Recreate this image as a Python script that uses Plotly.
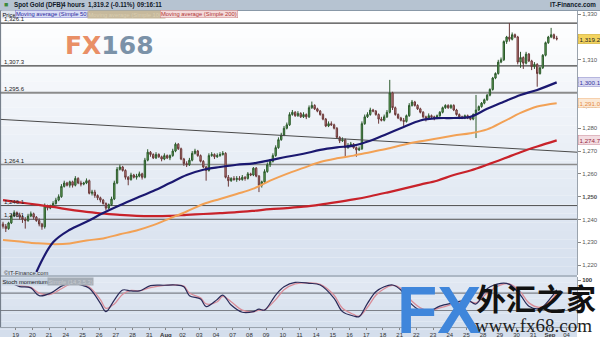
import plotly.graph_objects as go

W, H = 600, 337
def px(x): return x / W
def py(y): return 1 - y / H

FONT = "Liberation Sans, Arial, sans-serif"

# ---------------- DATA ----------------
opens = [
 1238.0,1237.0,1236.0,1238.5,1241.5,1243.0,
 1242.0,1241.0,1240.0,1239.5,1241.5,1242.5,
 1241.0,1239.5,1238.0,1236.8,1246.0,1245.0,
 1245.5,1247.0,1248.5,1250.0,1254.5,1256.0,
 1255.0,1256.5,1255.0,1258.0,1256.0,1255.5,
 1256.0,1257.0,1251.5,1252.0,1250.5,1249.5,
 1248.5,1247.0,1245.0,1246.5,1249.0,1256.0,
 1262.0,1263.0,1261.5,1258.5,1257.5,1259.5,
 1258.5,1259.0,1260.0,1258.5,1266.0,1269.5,
 1268.5,1267.0,1268.5,1267.5,1266.5,1268.0,
 1267.0,1268.0,1270.0,1273.0,1271.0,1266.5,
 1264.5,1264.0,1266.0,1269.0,1270.0,1268.0,
 1265.5,1263.0,1261.5,1268.0,1268.5,1267.5,
 1268.0,1268.5,1269.0,1258.5,1257.0,1258.0,
 1257.5,1258.0,1257.5,1258.5,1258.0,1260.0,
 1259.5,1262.5,1259.0,1255.0,1256.5,1261.0,
 1264.0,1265.5,1268.0,1271.5,1275.0,1277.0,
 1280.0,1281.5,1286.0,1287.0,1285.5,1286.5,
 1285.0,1286.0,1285.0,1289.0,1290.0,1288.5,
 1287.5,1286.0,1284.0,1281.0,1282.0,1281.5,
 1280.0,1276.0,1274.5,1275.0,1271.5,1272.5,
 1273.0,1271.5,1270.5,1271.0,1282.0,1285.0,
 1286.0,1288.0,1287.5,1286.0,1284.0,1283.5,
 1285.0,1287.0,1295.5,1289.0,1286.0,1284.5,
 1283.5,1283.0,1285.5,1290.0,1291.5,1290.0,
 1288.5,1287.0,1285.0,1284.5,1285.5,1285.0,
 1284.5,1285.5,1287.0,1289.0,1290.0,1289.0,
 1290.0,1288.0,1286.0,1285.0,1284.5,1285.5,
 1284.5,1284.0,1286.0,1288.0,1289.5,1291.0,
 1292.5,1294.5,1297.0,1302.0,1304.0,1309.0,
 1310.0,1318.0,1320.0,1319.0,1321.0,1320.0,
 1309.0,1311.0,1308.5,1312.5,1309.5,1307.0,
 1308.0,1304.0,1306.5,1312.0,1317.5,1320.0,
 1321.0,1319.5]
highs = [
 1239.0,1238.0,1239.0,1242.5,1244.0,1243.5,
 1243.0,1242.0,1241.0,1242.5,1243.5,1243.0,
 1241.5,1240.5,1238.5,1247.0,1246.5,1246.5,
 1248.0,1249.5,1251.0,1255.5,1257.0,1256.5,
 1257.0,1257.0,1259.0,1258.5,1257.0,1256.5,
 1258.0,1257.5,1253.0,1253.0,1251.0,1250.0,
 1249.0,1247.5,1247.0,1250.0,1257.0,1263.0,
 1264.0,1263.5,1262.0,1259.0,1260.5,1260.0,
 1260.0,1261.0,1260.5,1267.0,1270.8,1270.0,
 1269.0,1269.5,1269.0,1268.0,1269.0,1268.5,
 1268.5,1271.0,1273.7,1273.5,1271.5,1267.0,
 1265.5,1267.0,1270.0,1271.0,1270.5,1268.5,
 1266.0,1263.5,1269.0,1269.5,1269.0,1269.0,
 1269.5,1270.0,1269.5,1259.5,1258.5,1259.0,
 1259.0,1259.0,1259.5,1259.0,1260.8,1260.5,
 1263.0,1263.0,1259.5,1257.0,1262.0,1265.0,
 1266.5,1269.0,1272.5,1276.0,1278.0,1281.0,
 1282.5,1287.0,1288.0,1287.5,1287.5,1287.0,
 1287.0,1286.5,1290.0,1291.7,1290.5,1289.0,
 1288.0,1286.5,1284.5,1283.0,1283.0,1282.0,
 1280.5,1276.5,1276.0,1275.5,1273.5,1274.0,
 1273.5,1272.0,1272.0,1283.0,1286.0,1287.0,
 1289.0,1288.5,1288.0,1286.5,1285.0,1286.0,
 1288.0,1301.2,1296.0,1289.5,1286.5,1285.0,
 1284.5,1286.0,1291.0,1292.4,1292.0,1290.5,
 1289.0,1287.5,1285.5,1286.5,1286.0,1285.5,
 1286.0,1287.5,1289.5,1290.5,1290.5,1290.5,
 1290.5,1288.5,1286.5,1285.5,1286.0,1286.0,
 1285.0,1286.5,1294.6,1290.0,1291.5,1293.0,
 1295.0,1297.5,1302.5,1304.5,1310.0,1311.0,
 1318.5,1320.5,1326.1,1322.0,1321.5,1320.5,
 1313.5,1311.5,1313.5,1313.0,1310.0,1309.0,
 1308.5,1307.0,1312.5,1318.0,1320.5,1324.0,
 1321.5,1320.5]
lows = [
 1236.0,1234.5,1235.5,1238.0,1241.0,1241.0,
 1240.0,1238.5,1236.0,1239.0,1241.0,1240.0,
 1239.0,1237.0,1235.5,1236.0,1244.0,1244.5,
 1245.0,1246.5,1248.0,1249.5,1254.0,1254.5,
 1254.0,1254.0,1254.5,1255.5,1254.5,1255.0,
 1255.5,1251.0,1250.5,1249.5,1248.5,1247.5,
 1246.5,1244.0,1244.5,1246.0,1248.5,1255.5,
 1261.5,1261.0,1257.5,1255.0,1257.0,1258.0,
 1257.5,1258.5,1257.5,1258.0,1265.5,1267.5,
 1266.5,1266.5,1267.0,1265.5,1266.0,1266.5,
 1266.0,1267.5,1269.5,1270.5,1266.0,1263.5,
 1263.0,1263.5,1265.5,1268.5,1267.5,1265.0,
 1262.5,1257.0,1261.0,1267.5,1266.5,1267.0,
 1267.5,1268.0,1258.0,1254.4,1256.5,1257.0,
 1256.5,1257.0,1257.0,1257.0,1257.5,1259.0,
 1259.0,1258.5,1252.0,1254.0,1256.0,1260.5,
 1263.0,1265.0,1267.5,1271.0,1274.5,1276.5,
 1279.5,1281.0,1285.5,1285.0,1285.0,1284.5,
 1284.5,1284.0,1284.5,1288.5,1288.0,1287.0,
 1285.5,1283.5,1280.5,1280.5,1281.0,1279.5,
 1275.5,1273.5,1274.0,1267.5,1271.0,1272.0,
 1271.0,1267.5,1270.0,1270.5,1281.5,1284.5,
 1285.5,1287.0,1285.5,1282.0,1283.0,1283.0,
 1284.5,1286.5,1288.0,1285.5,1284.0,1283.0,
 1281.0,1282.5,1285.0,1289.5,1289.5,1288.0,
 1286.5,1284.5,1283.0,1284.0,1284.5,1283.5,
 1284.0,1285.0,1286.5,1288.5,1288.5,1288.5,
 1287.5,1285.5,1284.0,1284.0,1284.0,1284.0,
 1283.5,1283.5,1275.7,1287.5,1289.0,1290.5,
 1292.0,1294.0,1296.5,1301.5,1303.5,1308.5,
 1309.5,1317.0,1318.0,1318.5,1319.5,1308.0,
 1306.5,1306.0,1308.0,1309.0,1305.5,1306.0,
 1298.2,1303.5,1306.0,1311.5,1317.0,1319.5,
 1319.0,1318.5]
closes = [
 1237.0,1236.0,1238.5,1241.5,1243.0,1242.0,
 1241.0,1240.0,1239.5,1241.5,1242.5,1241.0,
 1239.5,1238.0,1236.8,1246.0,1245.0,1245.5,
 1247.0,1248.5,1250.0,1254.5,1256.0,1255.0,
 1256.5,1255.0,1258.0,1256.0,1255.5,1256.0,
 1257.0,1251.5,1252.0,1250.5,1249.5,1248.5,
 1247.0,1245.0,1246.5,1249.0,1256.0,1262.0,
 1263.0,1261.5,1258.5,1257.5,1259.5,1258.5,
 1259.0,1260.0,1258.5,1266.0,1269.5,1268.5,
 1267.0,1268.5,1267.5,1266.5,1268.0,1267.0,
 1268.0,1270.0,1273.0,1271.0,1266.5,1264.5,
 1264.0,1266.0,1269.0,1270.0,1268.0,1265.5,
 1263.0,1261.5,1268.0,1268.5,1267.5,1268.0,
 1268.5,1269.0,1258.5,1257.0,1258.0,1257.5,
 1258.0,1257.5,1258.5,1258.0,1260.0,1259.5,
 1262.5,1259.0,1255.0,1256.5,1261.0,1264.0,
 1265.5,1268.0,1271.5,1275.0,1277.0,1280.0,
 1281.5,1286.0,1287.0,1285.5,1286.5,1285.0,
 1286.0,1285.0,1289.0,1290.0,1288.5,1287.5,
 1286.0,1284.0,1281.0,1282.0,1281.5,1280.0,
 1276.0,1274.5,1275.0,1271.5,1272.5,1273.0,
 1271.5,1270.5,1271.0,1282.0,1285.0,1286.0,
 1288.0,1287.5,1286.0,1284.0,1283.5,1285.0,
 1287.0,1295.5,1289.0,1286.0,1284.5,1283.5,
 1283.0,1285.5,1290.0,1291.5,1290.0,1288.5,
 1287.0,1285.0,1284.5,1285.5,1285.0,1284.5,
 1285.5,1287.0,1289.0,1290.0,1289.0,1290.0,
 1288.0,1286.0,1285.0,1284.5,1285.5,1284.5,
 1284.0,1286.0,1288.0,1289.5,1291.0,1292.5,
 1294.5,1297.0,1302.0,1304.0,1309.0,1310.0,
 1318.0,1320.0,1319.0,1321.0,1320.0,1309.0,
 1311.0,1308.5,1312.5,1309.5,1307.0,1308.0,
 1304.0,1306.5,1312.0,1317.5,1320.0,1321.0,
 1319.5,1319.2]

# moving averages sampled once per trading day (bar index) + last bar
ma_bars = [0,6,12,18,24,30,36,42,48,54,60,66,72,78,84,90,96,102,108,114,
           120,126,132,138,144,150,156,162,168,174,180,186,192,199]
sma50 = [None,None,1217,1230,1235.5,1239,1242.8,1246.2,1249.4,1252.5,
         1256,1259.5,1261.8,1263,1264,1264.6,1266,1267.5,1268.8,1270.5,
         1271.6,1272.4,1274.5,1277.5,1280.5,1283.4,1284.4,1284.5,1285,1288.5,
         1291.6,1294.6,1296.8,1300.1]
sma100 = [1231,1230.3,1229.6,1229.2,1229.5,1230.8,1231.7,1233.5,1235.2,1237.5,
          1240.5,1243.5,1246.8,1249,1251.2,1253.5,1257,1260,1262.6,1265.2,
          1266.8,1268,1269.5,1271,1272.8,1274.3,1275.5,1276.8,1277.8,1279.5,
          1283,1286.7,1289.5,1291.0]
sma200 = [1248.5,1247.5,1246.5,1245.5,1244.3,1243.3,1242.6,1242,1241.6,1241.5,
          1241.6,1242,1242.4,1242.8,1243.2,1243.8,1244.5,1245,1245.6,1246.5,
          1247.6,1248.8,1250.2,1251.8,1253.5,1255.3,1257,1259.5,1261.5,1264,
          1266.7,1269.5,1272,1274.7]

stoch_bars = [0,3,6,10,13,17,21,24,28,31,35,37,40,43,46,49,53,58,62,65,
              67,71,73,77,79,82,86,90,92,94,98,101,105,110,114,119,122,126,128,131,
              134,137,140,143,146,150,153,157,162,167,170,174,179,182,186,189,193,197,199]
stoch_main = [85,84,70,64,28,39,72,85,77,62,-7,-45,8,54,50,50,74,76,77,69,
              28,13,-22,11,31,-15,-48,-45,-34,-38,31,69,89,85,77,16,-45,-65,-68,-7,
              46,69,77,54,0,-40,-45,-20,-5,8,-10,60,85,80,30,-20,-30,20,55]
stoch_signal = [84,84,76,66,40,34,60,80,80,68,10,-30,-10,35,52,50,65,75,77,72,
                40,18,-10,0,25,0,-38,-46,-38,-37,10,55,82,87,80,30,-30,-58,-66,-25,
                30,60,75,62,15,-28,-42,-28,-10,3,-5,40,78,82,45,-5,-25,5,45]

levels = [1326.1, 1307.3, 1295.6, 1264.1, 1246.1, 1240.1]
level_text = ["1,326.1", "1,307.3", "1,295.6", "1,264.1", "1,246.1", "1,240.1"]
trend_x = [-1.1, 206.3]
trend_y = [1283.9, 1269.5]

day_labels = ["19","20","21","24","25","26","27","28","31","<b>Aug</b>","02","03","04",
              "07","08","09","10","11","14","15","16","17","18","21","22","23","24",
              "25","28","29","30","31","<b>Sep</b>","04"]
price_ticks = [1220,1230,1240,1250,1260,1270,1280,1290,1300,1310,1320,1330]
price_tick_text = ["1,220","1,230","1,240","<b>1,250</b>","1,260","1,270","1,280",
                   "1,290","1,300","1,310","1,320","1,330"]

# ---------------- FIGURE ----------------
bars = list(range(len(closes)))
XR = [-1.08, 206.3]
main_dom = [py(275), py(11)]
st_dom = [py(327), py(277)]
xdom = [0, px(577)]

fig = go.Figure()

fig.add_trace(go.Scatter(x=trend_x, y=trend_y, mode="lines",
                         line=dict(color="#4a4a4a", width=1), hoverinfo="skip",
                         showlegend=False))
fig.add_trace(go.Scatter(x=ma_bars, y=sma200, mode="lines", line=dict(color="#c8222a", width=2.2, shape="spline"),
                         showlegend=False, hoverinfo="skip"))
fig.add_trace(go.Scatter(x=ma_bars, y=sma100, mode="lines", line=dict(color="#f2a155", width=2, shape="spline"),
                         showlegend=False, hoverinfo="skip"))
fig.add_trace(go.Scatter(x=ma_bars, y=sma50, mode="lines", line=dict(color="#1b1870", width=2.2, shape="spline"),
                         showlegend=False, hoverinfo="skip"))
fig.add_trace(go.Candlestick(x=bars, open=opens, high=highs, low=lows, close=closes,
                             increasing=dict(line=dict(color="#2c5a2c", width=1), fillcolor="#6cae5e"),
                             decreasing=dict(line=dict(color="#6a3838", width=1), fillcolor="#cf8b8b"),
                             whiskerwidth=0, showlegend=False, hoverinfo="skip"))

fig.add_trace(go.Scatter(x=stoch_bars, y=stoch_signal, mode="lines", xaxis="x2", yaxis="y2",
                         line=dict(color="#d98c98", width=1.3, shape="spline"), showlegend=False, hoverinfo="skip"))
fig.add_trace(go.Scatter(x=stoch_bars, y=stoch_main, mode="lines", xaxis="x2", yaxis="y2",
                         line=dict(color="#2a2a58", width=1.2, shape="spline"), showlegend=False, hoverinfo="skip"))

shapes = []
# background gradients
def lerp(c1, c2, t):
    return "rgb(%d,%d,%d)" % tuple(round(a + (b - a) * t) for a, b in zip(c1, c2))
N = 30
top, bot = 11, 275
for i in range(N):
    y0 = top + (bot - top) * i / N
    y1 = top + (bot - top) * (i + 1) / N
    shapes.append(dict(type="rect", xref="paper", yref="paper", x0=0, x1=px(577),
                       y0=py(y1), y1=py(y0), fillcolor=lerp((255, 255, 255), (214, 224, 238), i / (N - 1)),
                       line=dict(width=0), layer="below"))
for i in range(8):
    y0 = 275 + (337 - 275) * i / 8
    y1 = 275 + (337 - 275) * (i + 1) / 8
    shapes.append(dict(type="rect", xref="paper", yref="paper", x0=0, x1=px(577),
                       y0=py(y1), y1=py(y0), fillcolor=lerp((226, 233, 243), (212, 222, 236), i / 7),
                       line=dict(width=0), layer="below"))
# header bar
shapes.append(dict(type="rect", xref="paper", yref="paper", x0=0, x1=1, y0=py(10.5), y1=1,
                   fillcolor="#b6c3d1", line=dict(width=0)))
shapes.append(dict(type="line", xref="paper", yref="paper", x0=0, x1=1, y0=py(10.5), y1=py(10.5),
                   line=dict(color="#8a99a8", width=1)))
# panel separators / borders
shapes.append(dict(type="line", xref="paper", yref="paper", x0=0, x1=px(577), y0=py(276), y1=py(276),
                   line=dict(color="#9aa6b4", width=1.5)))
shapes.append(dict(type="line", xref="paper", yref="paper", x0=0.001, x1=0.001, y0=py(327), y1=py(11),
                   line=dict(color="#6a7480", width=1)))
# horizontal support/resistance levels
lv_style = {1326.1: ("#454545", 1.3), 1307.3: ("#454545", 1.3), 1295.6: ("#8c8c8c", 2),
            1264.1: ("#8c8c8c", 1.6), 1246.1: ("#505050", 1), 1240.1: ("#505050", 1)}
for lv in levels:
    c, w = lv_style[lv]
    shapes.append(dict(type="line", xref="paper", yref="y", x0=0, x1=px(577), y0=lv, y1=lv,
                       line=dict(color=c, width=w), layer="below"))
# stoch reference lines
for v in (40, -40):
    shapes.append(dict(type="line", xref="paper", yref="y2", x0=0, x1=px(577), y0=v, y1=v,
                       line=dict(color="#7c8088", width=1.2), layer="below"))

ann = []
def txt(x, y, s, size=6, color="#222", bold=False, xanchor="left", yanchor="middle", **kw):
    d = dict(xref="paper", yref="paper", x=px(x), y=py(y), text=("<b>%s</b>" % s) if bold else s,
             showarrow=False, xanchor=xanchor, yanchor=yanchor,
             font=dict(family=FONT, size=size, color=color))
    d.update(kw)
    ann.append(d)

# header texts
txt(2, 5, "■", size=7, color="#3c8a3c")
txt(12, 5, "Spot Gold (DFB)", size=6.3, color="#101828", bold=True)
txt(60, 5, "4 hours", size=6.3, color="#101828", bold=True)
txt(86, 5, "1,319.2 (-0.11%)", size=6.3, color="#101828", bold=True)
txt(135, 5, "09:16:11", size=6.3, color="#101828", bold=True)
txt(598, 5, "IT-Finance.com", size=6.3, color="#101828", bold=True, xanchor="right")

# legend row
txt(1, 14.5, "Price", size=5.8, color="#111", bgcolor="#dfe6ee", borderpad=0.5)
txt(15, 14.5, "Moving average (Simple 50)", size=5.8, color="#2828a0", bgcolor="#d9ddf5",
    bordercolor="#7a7ac8", borderwidth=0.5, borderpad=0.5)
txt(87, 14.5, "Moving average (Simple 100)", size=5.8, color="#d9cdb0", bgcolor="#c6b99c",
    borderpad=0.5)
txt(160, 14.5, "Moving average (Simple 200)", size=5.8, color="#b03434", bgcolor="#f4dada",
    bordercolor="#c88080", borderwidth=0.5, borderpad=0.5)

# level labels
for lv, t in zip(levels, level_text):
    ann.append(dict(xref="paper", yref="y", x=px(1.5), y=lv, text=t, showarrow=False,
                    xanchor="left", yanchor="bottom", yshift=-1,
                    font=dict(family=FONT, size=6, color="#222")))

# current value boxes on the price axis
boxes = [(closes[-1], "1,319.2", "#f3d35e", "#c9a830", "#222"),
         (sma50[-1], "1,300.1", "#dcdcf2", "#8888c8", "#3434a0"),
         (sma100[-1], "1,291.0", "#fbe9d6", "#efb27a", "#e58d45"),
         (sma200[-1], "1,274.7", "#f3dde2", "#c88a98", "#962840")]
for val, t, bg, bc, fc in boxes:
    ann.append(dict(xref="paper", yref="y", x=px(578), y=val, text=t, showarrow=False,
                    xanchor="left", yanchor="middle", bgcolor=bg, bordercolor=bc, borderwidth=0.5,
                    borderpad=1, font=dict(family=FONT, size=6.2, color=fc)))

# watermark / source texts
txt(2, 272.5, "©IT-Finance.com", size=5.8, color="#333")
txt(1, 281, "Stoch momentum", size=5.8, color="#111", bgcolor="#c9d5e3", borderpad=0.5)
txt(47, 281, "Simple (14,3,5,3)", size=5.8, color="#c5c9cf", bgcolor="#a5adb6", borderpad=0.5)

txt(109, 45, '<span style="color:#e98f66">FX</span><span style="color:#7b92a8">168</span>',
    size=25, xanchor="center", bold=True)
ann[-1]["font"]["family"] = "DejaVu Sans, sans-serif"

txt(439, 310, "FX", size=66, color="#3f86db", bold=True, xanchor="center")
txt(536, 297, "外汇之家", size=30, color="#111111", bold=True, xanchor="center")
ann[-1]["font"]["family"] = "Noto Sans CJK SC"
txt(533, 325.5, "www.fx68.com", size=19, color="#1e1e1e", xanchor="center")
ann[-1]["font"]["family"] = "Liberation Serif, serif"

fig.update_layout(
    width=W, height=H, margin=dict(l=0, r=0, t=0, b=0),
    paper_bgcolor="#ffffff", plot_bgcolor="rgba(0,0,0,0)",
    showlegend=False, shapes=shapes, annotations=ann,
    font=dict(family=FONT, size=6, color="#333"),
    xaxis=dict(domain=xdom, range=XR, anchor="y", showticklabels=False, showgrid=False,
               zeroline=False, rangeslider=dict(visible=False), fixedrange=True),
    yaxis=dict(domain=main_dom, range=[1215.66, 1331.4], side="right", anchor="x",
               tickvals=price_ticks, ticktext=price_tick_text, ticks="outside", ticklen=3,
               tickcolor="#888", tickfont=dict(size=6, color="#555", family=FONT),
               showgrid=False, zeroline=False, showline=True, linecolor="#9aa3ad", linewidth=1),
    xaxis2=dict(domain=xdom, range=XR, anchor="y2", showgrid=False, zeroline=False,
                tickvals=[4.56 + 6 * k for k in range(len(day_labels))], ticktext=day_labels,
                ticks="outside", ticklen=2, tickcolor="#888",
                tickfont=dict(size=6, color="#333", family=FONT), showline=True,
                linecolor="#9aa3ad", linewidth=1, tickangle=0),
    yaxis2=dict(domain=st_dom, range=[-115.6, 113.8], side="right", anchor="x2",
                tickvals=[100], ticktext=["<b>100</b>"], ticks="outside", ticklen=3, tickcolor="#888",
                tickfont=dict(size=6, color="#333", family=FONT), showgrid=False, zeroline=False,
                showline=True, linecolor="#9aa3ad", linewidth=1),
)

fig.write_html("out.html")
